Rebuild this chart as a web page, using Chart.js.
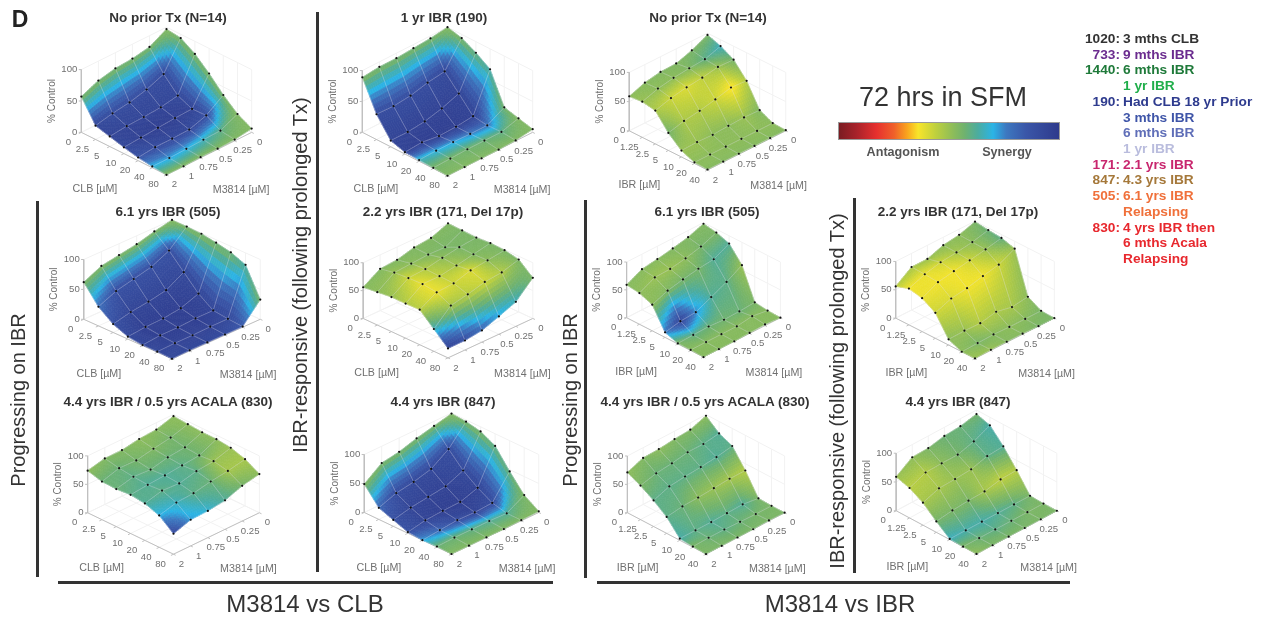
<!DOCTYPE html>
<html>
<head>
<meta charset="utf-8">
<title>M3814 synergy surfaces</title>
<script src="https://cdn.jsdelivr.net/npm/chart.js@4"></script>
<style>
  html, body { margin: 0; background: #fff; }
  #stage { position: relative; width: 1264px; height: 617px; overflow: hidden; filter: blur(0.4px); font-family: "Liberation Sans", Arial, sans-serif; }
  #stage canvas { position: absolute; }
  .txt { position: absolute; white-space: nowrap; line-height: 1; }
  .ttl { font-weight: bold; font-size: 13.5px; color: #333; transform: translate(-50%, -50%); }
  .big { font-size: 24px; color: #333; transform: translate(-50%, -50%); }
  .rot { font-size: 20px; color: #333; transform: translate(-50%, -50%) rotate(-90deg); }
  .rule { position: absolute; background: #333; }
  .leg { font-weight: bold; font-size: 13.7px; transform: translateY(-50%); }
</style>
</head>
<body>
<div id="stage"></div>
<script>
// tick labels
const clbLabels = ['0', '2.5', '5', '10', '20', '40', '80'];
const ibrLabels = ['0', '1.25', '2.5', '5', '10', '20', '40'];
const m3814Labels = ['0', '0.25', '0.5', '0.75', '1', '2'];
const zLabels = [0, 50, 100];

// % control, one row per M3814 dose, one column per CLB or IBR dose
const noPriorClbZ = [[97,94,80,60,37,18,6],[82,50,27,17,18,5,2],[77,39,22,16,9,4,1],[75,32,20,14,8,3,1],[69,28,19,12,8,2,0],[57,22,16,10,5,2,0]];
const ibr190ClbZ = [[100,94,82,67,17,11,5],[96,54,30,5,2,3,1],[94,50,20,2,2,3,0],[92,43,13,1,3,3,0],[92,40,10,5,3,2,0],[89,41,10,3,2,1,0]];
const noPriorIbrZ = [[97,89,77,52,13,2,1],[84,80,78,54,14,2,1],[75,78,73,47,13,2,1],[74,75,70,41,11,2,1],[69,70,65,37,12,2,1],[59,61,57,30,11,2,1]];
const ibr505ClbZ = [[100,100,99,95,90,80,33],[94,73,48,23,6,3,1],[86,59,31,12,6,3,1],[81,52,25,8,4,2,1],[76,45,21,7,4,2,1],[62,32,14,4,1,1,0]];
const ibr171ClbZ = [[100,99,98,100,99,94,73],[88,83,95,94,95,85,44],[85,84,90,88,91,82,32],[77,82,84,83,82,74,21],[75,80,82,83,80,68,17],[56,59,62,62,63,40,17]];
const ibr830ClbZ = [[97,95,93,93,90,82,68],[88,86,81,79,81,76,62],[86,81,78,76,78,72,51],[81,75,71,73,71,66,47],[81,76,73,71,73,64,46],[74,67,66,68,65,56,36]];
const ibr847ClbZ = [[99,97,92,79,47,18,2],[92,64,39,21,7,1,1],[85,44,26,11,5,2,0],[76,36,22,10,6,2,0],[71,31,18,8,3,2,0],[49,20,11,2,0,1,0]];
const ibr505IbrZ = [[98,94,86,59,4,1,0],[88,83,72,43,2,5,2],[82,76,69,30,1,1,1],[77,71,64,17,3,1,0],[73,70,58,15,2,1,0],[59,56,47,9,1,1,0]];
const ibr171IbrZ = [[99,96,94,87,14,1,0],[90,89,88,73,10,1,0],[86,85,83,67,16,1,1],[76,82,78,60,10,2,1],[76,75,73,56,11,1,1],[56,64,59,45,10,0,0]];
const ibr830IbrZ = [[98,79,69,38,1,0,0],[88,75,64,38,5,0,1],[86,75,61,36,4,1,0],[83,70,59,34,3,2,0],[82,67,56,33,3,2,0],[71,60,46,29,3,1,0]];
const ibr847IbrZ = [[93,86,62,33,1,0,0],[87,73,60,32,1,0,0],[85,65,52,26,1,0,0],[79,65,50,25,1,0,0],[78,64,49,23,1,0,0],[59,52,39,19,1,0,0]];

// position of each cell on the colour bar, 0 antagonism to 100 synergy
const noPriorClbC = [[54,55,55,55,55,54,54],[55,90,92,94,88,60,54],[55,90,94,96,92,66,54],[55,90,94,97,92,70,54],[55,90,94,96,90,72,54],[55,92,94,92,86,70,54]];
const ibr190ClbC = [[54,55,58,62,56,54,54],[55,92,94,95,78,60,54],[55,90,95,97,76,58,54],[55,90,95,97,72,57,54],[55,90,95,97,70,56,54],[54,90,94,95,66,56,54]];
const noPriorIbrC = [[55,66,56,46,54,52,53],[55,60,50,35,50,52,53],[54,54,44,42,52,52,53],[54,52,40,46,52,52,53],[53,52,42,47,50,52,53],[52,50,47,56,50,52,53]];
const ibr505ClbC = [[54,54,54,55,56,62,56],[54,88,92,94,94,92,84],[54,88,94,97,97,95,90],[54,88,94,97,97,95,92],[54,88,94,97,97,95,92],[55,78,88,92,93,93,92]];
const ibr171ClbC = [[54,55,55,55,55,55,55],[54,55,55,54,52,46,66],[54,54,52,48,40,42,72],[54,52,46,44,42,45,80],[54,50,42,38,38,48,88],[53,52,50,46,45,65,94]];
const ibr830ClbC = [[52,52,52,52,50,48,52],[53,56,57,57,50,48,56],[52,54,58,60,60,58,62],[54,56,58,62,62,60,68],[54,58,60,62,60,66,72],[52,58,58,60,62,70,90]];
const ibr847ClbC = [[54,55,55,58,58,55,54],[55,90,92,94,90,62,54],[55,92,95,97,94,62,54],[55,92,95,97,90,60,54],[55,90,94,94,80,58,54],[54,80,88,88,72,58,54]];
const ibr505IbrC = [[54,55,62,50,55,53,53],[54,56,62,60,58,53,53],[54,52,56,62,57,53,53],[53,50,56,74,58,53,53],[53,50,54,92,60,53,53],[53,52,52,76,55,53,53]];
const ibr171IbrC = [[55,58,60,50,52,55,55],[52,52,50,42,48,53,55],[52,48,42,37,47,52,53],[50,42,37,37,46,53,53],[48,38,37,40,50,55,50],[45,37,38,42,52,52,50]];
const ibr830IbrC = [[52,62,60,46,55,55,55],[54,60,62,48,62,56,55],[54,58,60,50,60,58,55],[52,58,60,52,62,60,55],[54,58,60,58,60,58,55],[52,55,60,60,64,55,55]];
const ibr847IbrC = [[56,64,62,46,55,55,55],[58,60,60,44,60,55,55],[58,56,50,48,62,58,55],[55,52,50,55,64,60,55],[52,46,48,55,64,58,55],[50,45,48,56,66,55,52]];

// legend at the right
const legendIds = ['1020:', '733:', '1440:', '', '190:', '', '', '', '171:', '847:', '505:', '', '830:', '', ''];
const legendTexts = ['3 mths CLB', '9 mths IBR', '6 mths IBR', '1 yr IBR', 'Had CLB 18 yr Prior', '3 mths IBR', '6 mths IBR', '1 yr IBR', '2.1 yrs IBR', '4.3 yrs IBR', '6.1 yrs IBR', 'Relapsing', '4 yrs IBR then', '6 mths Acala', 'Relapsing'];
const legendColors = ['#333333', '#6b2c8f', '#1f7a3a', '#1fae4a', '#2e3b8e', '#3f55a8', '#5f6eb8', '#b9bcdd', '#c8266e', '#a5783a', '#f0703a', '#f0703a', '#e8282e', '#e8282e', '#e8282e'];

// colour bar stops: position, r, g, b
const colorStops = [[0,122,28,34],[8,168,34,42],[17,230,48,46],[25,240,96,42],[31,249,165,30],[36,248,229,42],[44,190,208,62],[52,140,188,90],[57,112,178,110],[63,76,172,158],[70,43,180,230],[76,61,120,192],[85,58,86,168],[100,46,58,140]];

// left corner x, right corner x, corner y, front corner y, height of 100% in px
const panels = [
  { title: 'No prior Tx (N=14)', at: [168, 17], names: clbLabels, xName: 'CLB [µM]', z: noPriorClbZ, c: noPriorClbC, box: [79, 255, 133, 177, 65] },
  { title: '1 yr IBR (190)', at: [444, 17], names: clbLabels, xName: 'CLB [µM]', z: ibr190ClbZ, c: ibr190ClbC, box: [360, 536, 133, 178, 64] },
  { title: 'No prior Tx (N=14)', at: [708, 17], names: ibrLabels, xName: 'IBR [µM]', z: noPriorIbrZ, c: noPriorIbrC, box: [626, 788, 132, 173, 61] },
  { title: '6.1 yrs IBR (505)', at: [168, 211], names: clbLabels, xName: 'CLB [µM]', z: ibr505ClbZ, c: ibr505ClbC, box: [81, 263, 320, 361, 62] },
  { title: '2.2 yrs IBR (171, Del 17p)', at: [443, 211], names: clbLabels, xName: 'CLB [µM]', z: ibr171ClbZ, c: ibr171ClbC, box: [360, 535, 319, 360, 58] },
  { title: '4.4 yrs IBR / 0.5 yrs ACALA (830)', at: [168, 401], names: clbLabels, xName: 'CLB [µM]', z: ibr830ClbZ, c: ibr830ClbC, box: [85, 262, 513, 556, 59] },
  { title: '4.4 yrs IBR (847)', at: [443, 401], names: clbLabels, xName: 'CLB [µM]', z: ibr847ClbZ, c: ibr847ClbC, box: [361, 541, 513, 556, 60] },
  { title: '6.1 yrs IBR (505)', at: [707, 211], names: ibrLabels, xName: 'IBR [µM]', z: ibr505IbrZ, c: ibr505IbrC, box: [624, 783, 318, 359, 58] },
  { title: '2.2 yrs IBR (171, Del 17p)', at: [958, 211], names: ibrLabels, xName: 'IBR [µM]', z: ibr171IbrZ, c: ibr171IbrC, box: [893, 1057, 319, 361, 59] },
  { title: '4.4 yrs IBR / 0.5 yrs ACALA (830)', at: [705, 401], names: ibrLabels, xName: 'IBR [µM]', z: ibr830IbrZ, c: ibr830IbrC, box: [625, 788, 513, 556, 59] },
  { title: '4.4 yrs IBR (847)', at: [958, 401], names: ibrLabels, xName: 'IBR [µM]', z: ibr847IbrZ, c: ibr847IbrC, box: [893, 1059, 512, 557, 60] }
];

const stage = document.getElementById('stage');
const FONT = '"Liberation Sans", Arial, sans-serif';
const GAP = { x: NaN, y: NaN };

function colorAt(score) {
  let k = 0;
  while (k < colorStops.length - 2 && score > colorStops[k + 1][0]) k++;
  const a = colorStops[k], b = colorStops[k + 1];
  const t = Math.min(1, Math.max(0, (score - a[0]) / (b[0] - a[0])));
  return 'rgb(' + [1, 2, 3].map(n => Math.round(a[n] + (b[n] - a[n]) * t)).join(',') + ')';
}

function addText(text, cls, x, y, extra) {
  const el = document.createElement('div');
  el.className = 'txt ' + cls;
  el.textContent = text;
  el.style.left = x + 'px';
  el.style.top = y + 'px';
  Object.assign(el.style, extra || {});
  stage.appendChild(el);
  return el;
}

function addRule(x, y, w, h) {
  const el = document.createElement('div');
  el.className = 'rule';
  el.style.cssText = 'left:' + x + 'px;top:' + y + 'px;width:' + w + 'px;height:' + h + 'px';
  stage.appendChild(el);
}

// draws the shaded surface right after the axes dataset, so mesh and dots stay on top
const surfacePlugin = {
  id: 'surface',
  afterDatasetDraw(chart, args) {
    if (chart.data.datasets[args.index].label !== 'axes') return;
    const p = chart.config.options.plugins.surface;
    const ctx = chart.ctx, sx = chart.scales.x, sy = chart.scales.y, steps = 8;
    const z = p.z, c = p.c;
    const toPx = (a, b, zz) => {
      const q = p.project(a, b, zz);
      return [sx.getPixelForValue(q.x), sy.getPixelForValue(q.y)];
    };
    const mix = (g, r, k, u, v) => (g[r][k] * (1 - u) + g[r][k + 1] * u) * (1 - v) + (g[r + 1][k] * (1 - u) + g[r + 1][k + 1] * u) * v;
    ctx.save();
    ctx.lineWidth = 0.7;
    for (let r = 0; r < 5; r++) {
      for (let k = 0; k < 6; k++) {
        for (let m = 0; m < steps; m++) {
          for (let n = 0; n < steps; n++) {
            const corners = [[n, m], [n + 1, m], [n + 1, m + 1], [n, m + 1]].map(e => {
              const u = e[0] / steps, v = e[1] / steps;
              return toPx((k + u) / 6, (r + v) / 5, mix(z, r, k, u, v));
            });
            const col = colorAt(mix(c, r, k, (n + 0.5) / steps, (m + 0.5) / steps));
            ctx.fillStyle = col;
            ctx.strokeStyle = col;
            ctx.beginPath();
            corners.forEach((q, e) => e ? ctx.lineTo(q[0], q[1]) : ctx.moveTo(q[0], q[1]));
            ctx.closePath();
            ctx.fill();
            ctx.stroke();
          }
        }
      }
    }
    ctx.restore();
  },
  afterDraw(chart) {
    const p = chart.config.options.plugins.surface;
    const ctx = chart.ctx, sx = chart.scales.x, sy = chart.scales.y;
    const toPx = (a, b, zz) => {
      const q = p.project(a, b, zz);
      return [sx.getPixelForValue(q.x), sy.getPixelForValue(q.y)];
    };
    ctx.save();
    ctx.fillStyle = '#707070';
    ctx.font = '9.6px ' + FONT;
    ctx.textBaseline = 'middle';
    ctx.textAlign = 'center';
    p.names.forEach((t, i) => {
      const q = toPx(i / 6, 1, 0);
      ctx.fillText(t, q[0] - 13, q[1] + 10);
    });
    m3814Labels.forEach((t, j) => {
      const q = toPx(1, j / 5, 0);
      ctx.fillText(t, q[0] + 8, q[1] + 10);
    });
    ctx.textAlign = 'right';
    zLabels.forEach(v => {
      const q = toPx(0, 1, v);
      ctx.fillText(String(v), q[0] - 4, q[1]);
    });
    ctx.textAlign = 'center';
    ctx.font = '10.7px ' + FONT;
    const l = toPx(0, 1, 0), f = toPx(1, 1, 0), r = toPx(1, 0, 0), t = toPx(0, 1, 50);
    ctx.fillText(p.xName, (l[0] + f[0]) / 2 - 29, (l[1] + f[1]) / 2 + 35);
    ctx.fillText('M3814 [µM]', (r[0] + f[0]) / 2 + 32, (r[1] + f[1]) / 2 + 36);
    ctx.translate(l[0] - 29, t[1]);
    ctx.rotate(-Math.PI / 2);
    ctx.font = '10px ' + FONT;
    ctx.fillText('% Control', 0, 0);
    ctx.restore();
  }
};

panels.forEach(panel => {
  const [lx, rx, cy, fy, zh] = panel.box;
  const w = (rx - lx) / 2, d = fy - cy, cx = (lx + rx) / 2, backY = cy - d;
  const xSpan = 1.45, yTop = 1.0, yBottom = -1.45;
  // box coordinates to the flat x/y the two chart scales work in
  const project = (a, b, zz) => ({ x: a - b, y: (zz / 100) * (zh / w) - (a + b) * (d / w) });

  const canvas = document.createElement('canvas');
  canvas.style.left = (cx - xSpan * w) + 'px';
  canvas.style.top = (backY - yTop * w) + 'px';
  canvas.width = Math.round(2 * xSpan * w);
  canvas.height = Math.round((yTop - yBottom) * w);
  stage.appendChild(canvas);

  const dots = [], mesh = [], axes = [], grid = [];
  panel.z.forEach((row, j) => row.forEach((v, i) => dots.push(project(i / 6, j / 5, v))));
  panel.z.forEach((row, j) => {
    row.forEach((v, i) => mesh.push(project(i / 6, j / 5, v)));
    mesh.push(GAP);
  });
  panel.z[0].forEach((_, i) => {
    panel.z.forEach((row, j) => mesh.push(project(i / 6, j / 5, row[i])));
    mesh.push(GAP);
  });

  // back walls and floor
  panel.names.forEach((_, i) => {
    const a = i / 6;
    grid.push(project(a, 1, 0), project(a, 0, 0), project(a, 0, 100), GAP);
  });
  m3814Labels.forEach((_, j) => {
    const b = j / 5;
    grid.push(project(1, b, 0), project(0, b, 0), project(0, b, 100), GAP);
  });
  zLabels.forEach(v => {
    grid.push(project(0, 1, v), project(0, 0, v), project(1, 0, v), GAP);
  });

  // visible axes with their ticks
  axes.push(project(0, 1, 100), project(0, 1, 0), project(1, 1, 0), project(1, 0, 0), GAP);
  panel.names.forEach((_, i) => axes.push(project(i / 6, 1, 0), project(i / 6, 1.03, 0), GAP));
  m3814Labels.forEach((_, j) => axes.push(project(1, j / 5, 0), project(1.025, j / 5, 0), GAP));
  zLabels.forEach(v => {
    const q = project(0, 1, v);
    axes.push(q, { x: q.x - 0.03, y: q.y }, GAP);
  });

  const lineSet = (label, data, color, order) => ({ label, data, showLine: true, borderColor: color, borderWidth: 1, pointRadius: 0, tension: 0, order });

  new Chart(canvas, {
    type: 'scatter',
    data: {
      datasets: [
        { label: 'values', data: dots, showLine: false, pointRadius: 1.1, pointBackgroundColor: '#111', pointBorderWidth: 0, order: 0 },
        lineSet('mesh', mesh, 'rgba(225,225,240,0.32)', 1),
        lineSet('axes', axes, '#c0c0c0', 2),
        lineSet('walls', grid, '#f2f2f2', 3)
      ]
    },
    plugins: [surfacePlugin],
    options: {
      responsive: false,
      maintainAspectRatio: false,
      animation: false,
      events: [],
      devicePixelRatio: 1,
      layout: { padding: 0 },
      clip: false,
      scales: {
        x: { type: 'linear', display: false, min: -xSpan, max: xSpan },
        y: { type: 'linear', display: false, min: yBottom, max: yTop }
      },
      plugins: {
        legend: { display: false },
        tooltip: { enabled: false },
        surface: { z: panel.z, c: panel.c, names: panel.names, xName: panel.xName, project }
      }
    }
  });

  addText(panel.title, 'ttl', panel.at[0], panel.at[1] + 0.5);
});

// frame lines and big labels
addRule(35.5, 201, 3, 376);
addRule(315.5, 12, 3, 560);
addRule(583.5, 200, 3, 378);
addRule(852.5, 198, 3, 375);
addRule(58, 581, 495, 3);
addRule(597, 581, 473, 3);

addText('D', 'big', 20, 19, { fontWeight: 'bold', fontSize: '23px', color: '#222' });
addText('M3814 vs CLB', 'big', 305, 604);
addText('M3814 vs IBR', 'big', 840, 604);
addText('Progressing on IBR', 'rot', 18, 400);
addText('IBR-responsive (following prolonged Tx)', 'rot', 300, 275);
addText('Progressing on IBR', 'rot', 570, 400);
addText('IBR-responsive (following prolonged Tx)', 'rot', 837, 391);

// colour bar
addText('72 hrs in SFM', 'big', 943, 97, { fontSize: '27px' });
const bar = document.createElement('div');
bar.style.cssText = 'position:absolute;left:838px;top:122px;width:222px;height:18px;box-sizing:border-box;border:1px solid #999';
bar.style.background = 'linear-gradient(to right,' + colorStops.map(s => 'rgb(' + s[1] + ',' + s[2] + ',' + s[3] + ') ' + s[0] + '%').join(',') + ')';
stage.appendChild(bar);
addText('Antagonism', 'ttl', 903, 152, { fontSize: '12.6px', color: '#555' });
addText('Synergy', 'ttl', 1007, 152, { fontSize: '12.6px', color: '#555' });

// legend rows
legendTexts.forEach((t, k) => {
  const y = 39 + k * 15.72;
  if (legendIds[k]) {
    addText(legendIds[k], 'leg', 0, y, { left: 'auto', right: (1264 - 1120) + 'px', color: legendColors[k] });
  }
  addText(t, 'leg', 1123, y, { color: legendColors[k] });
});
</script>
</body>
</html>
